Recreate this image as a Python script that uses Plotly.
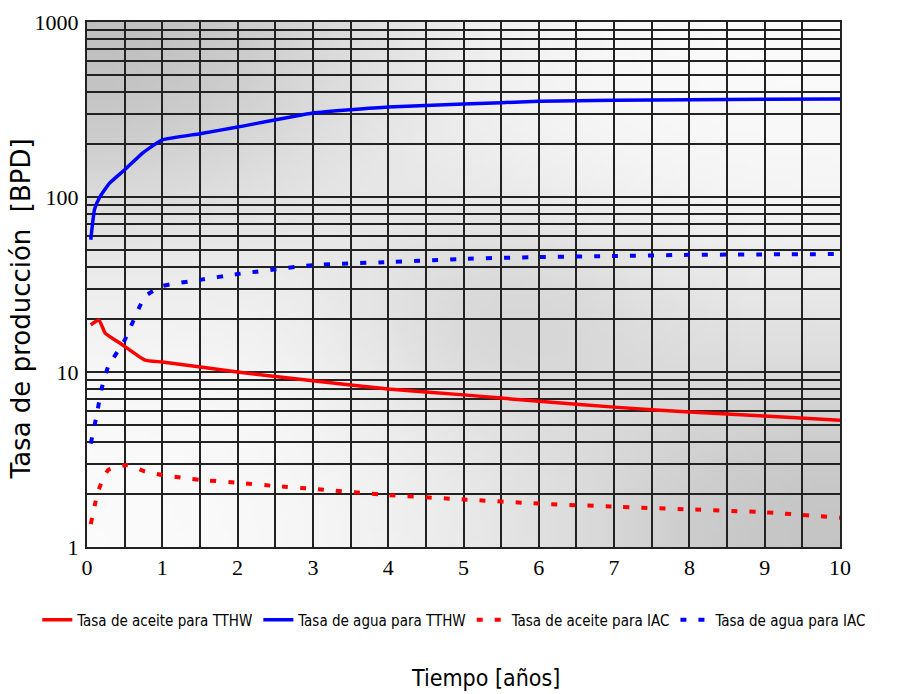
import base64, struct, zlib, math
import plotly.graph_objects as go

# ---- data ----
t_oil_tthw = [0.05, 0.16, 0.24, 0.44, 0.77, 1, 2, 3, 4, 5, 6, 7, 8, 9, 10]
oil_tthw = [18.6, 19.8, 16.7, 14.6, 11.7, 11.4, 10.0, 8.9, 8.0, 7.4, 6.8, 6.3, 5.9, 5.6, 5.3]

t_water_tthw = [0.05, 0.1, 0.17, 0.3, 0.5, 0.75, 1, 1.5, 2, 3, 4, 5, 6, 7, 8, 9, 10]
water_tthw = [57, 85, 100, 120, 143, 180, 212, 230, 251, 302, 327, 340, 352, 357, 360, 362, 363]

t_oil_iac = [0.05, 0.15, 0.28, 0.53, 0.77, 1, 1.5, 2, 2.5, 3, 4, 5, 6, 7, 8, 9, 10]
oil_iac = [1.35, 2.1, 2.75, 2.94, 2.7, 2.58, 2.42, 2.33, 2.23, 2.15, 1.98, 1.87, 1.77, 1.7, 1.64, 1.58, 1.47]

t_water_iac = [0.05, 0.13, 0.19, 0.28, 0.5, 0.77, 1, 1.5, 2, 3, 4, 5, 6, 7, 8, 9, 10]
water_iac = [3.9, 5.7, 7.9, 10.7, 15.2, 27, 31, 33.6, 36.3, 40.8, 42.5, 44.3, 45.4, 46.0, 46.7, 47.0, 47.2]

x_ticks = list(range(0, 11))
y_ticks = [1, 10, 100, 1000]
y_ticklabels = ["1", "10", "100", "1000"]
y_minor = [m * 10 ** e for e in range(0, 3) for m in range(2, 10)]


# ---- background gradient image (pure python PNG) ----
def gradient_png(w=120, h=84):
    rows = []
    for j in range(h):
        y = j / (h - 1)
        row = bytearray([0])
        for i in range(w):
            x = i / (w - 1)
            d1 = math.exp(-((x - 0.0) ** 2 + (y - 0.0) ** 2) / 0.18)
            d2 = math.exp(-((x - 1.0) ** 2 + (y - 1.0) ** 2) / 0.22)
            d3 = math.exp(-((x - 0.55) ** 2 + (y - 0.55) ** 2) / 0.05)
            dark = 60 * d1 + 55 * d2 + 25 * d3
            g = int(max(150, min(252, 252 - dark)))
            row += bytes([g, g, g])
        rows.append(bytes(row))
    raw = b"".join(rows)

    def chunk(tag, data):
        c = struct.pack(">I", len(data)) + tag + data
        return c + struct.pack(">I", zlib.crc32(tag + data) & 0xffffffff)

    png = b"\x89PNG\r\n\x1a\n"
    png += chunk(b"IHDR", struct.pack(">IIBBBBB", w, h, 8, 2, 0, 0, 0))
    png += chunk(b"IDAT", zlib.compress(raw, 9))
    png += chunk(b"IEND", b"")
    return "data:image/png;base64," + base64.b64encode(png).decode()


fig = go.Figure()
fig.add_trace(go.Scatter(x=t_oil_tthw, y=oil_tthw, mode="lines", name="Tasa de aceite para TTHW",
                         line=dict(color="#ff0000", width=3.5, shape="spline", smoothing=0.4)))
fig.add_trace(go.Scatter(x=t_water_tthw, y=water_tthw, mode="lines", name="Tasa de agua para TTHW",
                         line=dict(color="#0000ff", width=3.5, shape="spline", smoothing=0.4)))
fig.add_trace(go.Scatter(x=t_oil_iac, y=oil_iac, mode="lines", name="Tasa de aceite para IAC",
                         line=dict(color="#ff0000", width=4, dash="6px,12px", shape="spline", smoothing=0.4)))
fig.add_trace(go.Scatter(x=t_water_iac, y=water_iac, mode="lines", name="Tasa de agua para IAC",
                         line=dict(color="#0000ff", width=4, dash="6px,12px", shape="spline", smoothing=0.4)))

serif = "Liberation Serif, Times New Roman, serif"
narrow = "DejaVu Sans Condensed, Liberation Sans Narrow, sans-serif"

fig.update_layout(
    width=901, height=694,
    margin=dict(l=87, r=61, t=22, b=147),
    paper_bgcolor="white",
    plot_bgcolor="#e6e6e6",
    images=[dict(source=gradient_png(), xref="paper", yref="paper", x=0, y=1,
                 sizex=1, sizey=1, xanchor="left", yanchor="top",
                 sizing="stretch", layer="below")],
    showlegend=True,
    legend=dict(orientation="h", x=-0.066, xanchor="left",
                y=-0.139, yanchor="middle",
                font=dict(family=narrow, size=15, color="black"),
                itemwidth=30, tracegroupgap=0, bgcolor="rgba(0,0,0,0)"),
    xaxis=dict(range=[0, 10], tickvals=x_ticks, ticktext=[str(v) for v in x_ticks],
               tickfont=dict(family=serif, size=22, color="black"),
               showgrid=True, gridcolor="#222", gridwidth=2,
               minor=dict(dtick=0.5, showgrid=True, gridcolor="#222", gridwidth=2),
               showline=True, linecolor="#222", linewidth=2, mirror=True,
               ticks="", zeroline=False, automargin=False),
    yaxis=dict(type="log", range=[0, 3], tickvals=y_ticks, ticktext=y_ticklabels,
               tickfont=dict(family=serif, size=22, color="black"),
               showgrid=True, gridcolor="#222", gridwidth=2,
               minor=dict(tickvals=y_minor, showgrid=True, gridcolor="#222", gridwidth=2),
               showline=True, linecolor="#222", linewidth=2, mirror=True,
               ticks="", ticklabelstandoff=2, automargin=False),
    annotations=[
        dict(text="Tiempo [años]", xref="paper", yref="paper", x=0.529, y=-0.249,
             xanchor="center", yanchor="middle", showarrow=False,
             font=dict(family=narrow, size=23, color="black")),
        dict(text="Tasa de producción  [BPD]", xref="paper", yref="paper",
             x=-0.088, y=0.454, xanchor="center", yanchor="middle", textangle=-90,
             showarrow=False, font=dict(family="DejaVu Sans, sans-serif", size=26, color="black")),
    ],
)

fig.write_html("out.html", post_script="document.body.style.margin='0';",
               config={"displayModeBar": False})
